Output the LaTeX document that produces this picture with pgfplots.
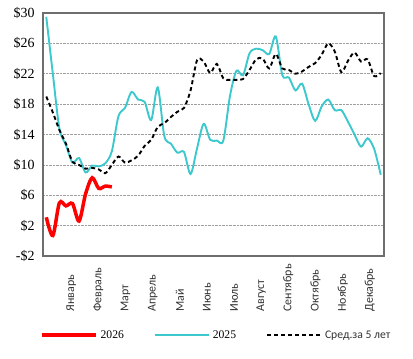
\documentclass[border=0pt]{standalone}
\usepackage{pgfplots}
\pgfplotsset{compat=1.18}
\usepackage{fontspec}
\setmainfont{Liberation Serif}
\newfontfamily\calfont{Carlito}
\definecolor{cy}{RGB}{60,200,204}
\definecolor{fr}{RGB}{110,110,110}
\definecolor{lab}{RGB}{50,50,50}
\begin{document}
\begin{tikzpicture}
\path[use as bounding box] (-43bp,-103bp) rectangle (370bp,256bp);
\begin{axis}[
  at={(0,0)}, anchor=south west,
  scale only axis, width=341bp, height=243bp,
  xmin=0.5, xmax=52.5, ymin=-2, ymax=30,
  ytick={-2,2,6,10,14,18,22,26,30},
  yticklabels={-\$2,\$2,\$6,\$10,\$14,\$18,\$22,\$26,\$30},
  xtick={4.8,8.94,13.08,17.22,21.36,25.5,29.64,33.78,37.92,42.06,46.2,50.34},
  xticklabels={Январь,Февраль,Март,Апрель,Май,Июнь,Июль,Август,Сентябрь,Октябрь,Ноябрь,Декабрь},
  xticklabel style={yshift=-59bp, rotate=90, anchor=west, font=\calfont\fontsize{12}{13}\selectfont, text=lab},
  yticklabel style={font=\fontsize{14}{15}\selectfont, xshift=-5bp},
  major tick length=0pt,
  ymajorgrids, grid style={densely dotted, gray!75, line width=0.6bp},
  axis line style={draw=fr, line width=1.6bp},
  clip=false,
  legend columns=3,
  legend style={at={(axis description cs:-0.009,-0.325)}, anchor=west, draw=none, fill=none, inner sep=0pt,
    font=\fontsize{11.7}{12}\selectfont,
    /tikz/every even column/.append style={column sep=28bp},
    /tikz/every odd column/.append style={column sep=1bp}},
  legend image code/.code={\draw[#1] (0bp,0bp) -- (54bp,0bp);},
]
\addplot[red, line width=3.5bp, smooth, tension=0.5] coordinates {
(1,3.1)(2,0.7)(3,5.0)(4,4.6)(5,4.9)(6,2.6)(7,6.2)(8,8.3)(9,6.9)(10,7.2)(11,7.1)};
\addlegendentry{2026}
\addplot[cy, line width=1.9bp, smooth, tension=0.5] coordinates {
(1,29.5)(2,22.0)(3,14.8)(4,12.6)(5,10.3)(6,10.9)(7,9.0)(8,9.9)(9,9.8)(10,10.2)
(11,11.8)(12,16.4)(13,17.5)(14,19.6)(15,18.6)(16,18.3)(17,15.9)(18,20.2)(19,13.8)(20,12.8)
(21,11.6)(22,11.7)(23,8.8)(24,12.2)(25,15.4)(26,13.3)(27,13.2)(28,13.2)(29,19.0)(30,22.4)
(31,21.8)(32,24.7)(33,25.3)(34,25.1)(35,24.6)(36,26.9)(37,21.8)(38,21.5)(39,19.8)(40,20.7)
(41,18.0)(42,15.8)(43,17.7)(44,18.6)(45,17.2)(46,17.2)(47,15.7)(48,14.0)(49,12.4)(50,13.5)
(51,12.1)(52,8.7)};
\addlegendentry{2025}
\addplot[black, line width=1.9bp, dash pattern=on 4bp off 3bp, smooth, tension=0.5] coordinates {
(1,19.0)(2,16.9)(3,14.6)(4,12.8)(5,10.4)(6,10.0)(7,9.5)(8,9.6)(9,9.4)(10,8.9)
(11,10.0)(12,11.1)(13,10.3)(14,10.6)(15,11.2)(16,12.5)(17,13.3)(18,15.0)(19,15.5)(20,16.3)
(21,17.0)(22,17.5)(23,19.8)(24,23.8)(25,23.6)(26,22.1)(27,23.3)(28,21.4)(29,21.2)(30,21.2)
(31,21.3)(32,22.5)(33,23.9)(34,24.0)(35,22.7)(36,24.6)(37,22.7)(38,22.5)(39,22.0)(40,22.3)
(41,22.9)(42,23.4)(43,24.5)(44,26.0)(45,24.9)(46,22.2)(47,23.7)(48,24.8)(49,23.6)(50,23.9)
(51,21.7)(52,22.1)};
\addlegendentry{\calfont\color{lab}Сред.за 5 лет}
\end{axis}
\end{tikzpicture}
\end{document}
